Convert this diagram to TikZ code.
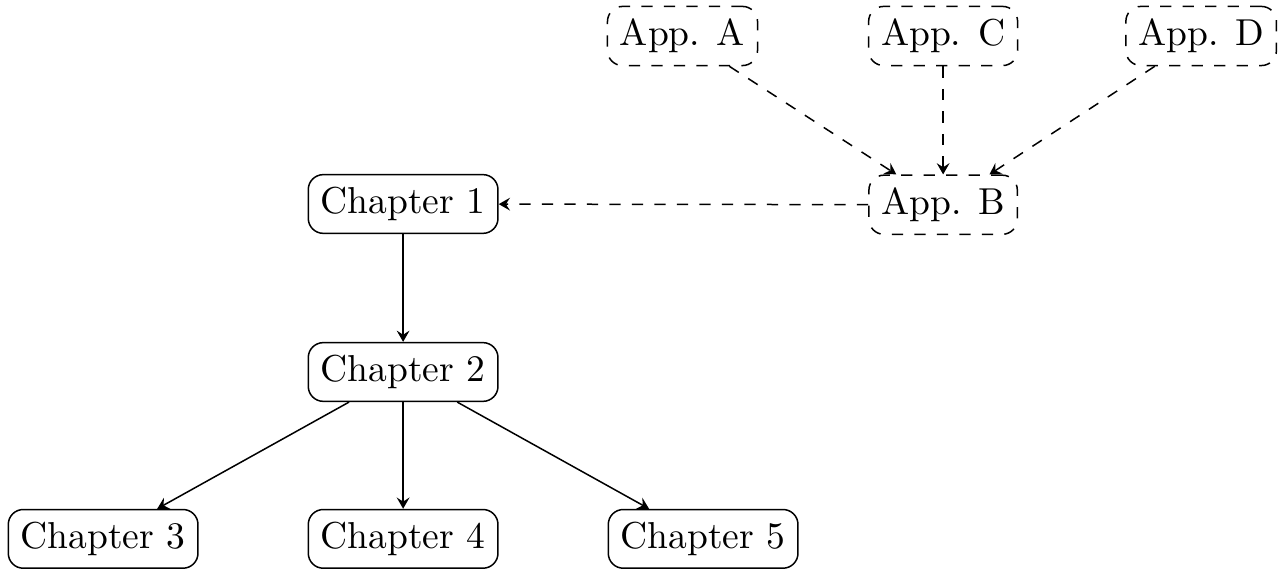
\documentclass[tikz,border=0pt]{standalone}
\usetikzlibrary{arrows.meta}
\begin{document}
\begin{tikzpicture}[x=1pt,y=1pt,>={Stealth[length=3pt,width=3.4pt,inset=1.1pt]}]
\tikzset{
  chap/.style={draw, rounded corners, inner sep=.3333em},
  app/.style={chap, dashed},
  link/.style={->},
  dlink/.style={->, dashed}
}
\useasboundingbox (0,0) rectangle (342.4,-151.5);
\node[app] (appA) at (182.0,-9.6) {App. A};
\node[app] (appC) at (251.5,-9.6) {App. C};
\node[app] (appD) at (320.3,-9.6) {App. D};
\node[app] (appB) at (251.5,-54.6) {App. B};
\node[chap] (ch1) at (107.5,-54.4) {Chapter 1};
\node[chap] (ch2) at (107.5,-99.2) {Chapter 2};
\node[chap] (ch3) at (27.5,-143.7) {Chapter 3};
\node[chap] (ch4) at (107.5,-143.7) {Chapter 4};
\node[chap] (ch5) at (187.5,-143.7) {Chapter 5};
\draw[dlink] (appA) -- (appB);
\draw[dlink] (appC) -- (appB);
\draw[dlink] (appD) -- (appB);
\draw[dlink] (appB) -- (ch1);
\draw[link] (ch1) -- (ch2);
\draw[link] (ch2) -- (ch3);
\draw[link] (ch2) -- (ch4);
\draw[link] (ch2) -- (ch5);
\end{tikzpicture}
\end{document}
